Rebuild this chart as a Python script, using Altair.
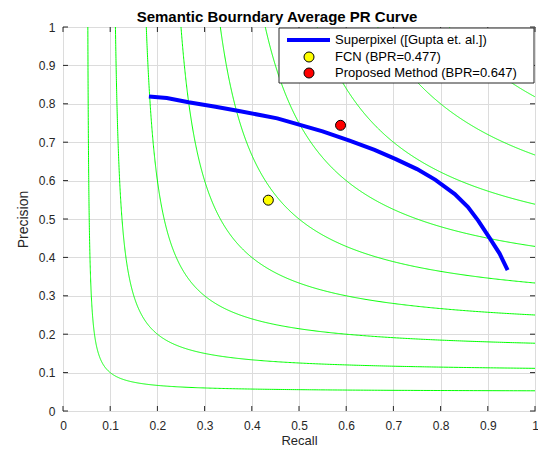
import altair as alt
import numpy as np
import pandas as pd

# Superpixel curve
sp_recall = [0.182, 0.22, 0.266, 0.32, 0.370, 0.42, 0.454, 0.502, 0.55, 0.607,
             0.66, 0.705, 0.75, 0.789, 0.83, 0.858, 0.88, 0.904, 0.925, 0.942]
sp_precision = [0.819, 0.815, 0.804, 0.793, 0.782, 0.770, 0.762, 0.745, 0.728, 0.704,
                0.680, 0.656, 0.630, 0.602, 0.565, 0.531, 0.495, 0.450, 0.410, 0.367]

pt_labels = ["FCN (BPR=0.477)", "Proposed Method (BPR=0.647)"]
pt_recall = [0.435, 0.588]
pt_precision = [0.549, 0.744]
pt_colors = ["#ffff00", "#ff0000"]
line_label = "Superpixel ([Gupta et. al.])"

f_levels = [0.1, 0.2, 0.3, 0.4, 0.5, 0.6, 0.7, 0.8, 0.9]
ticks = [0, 0.1, 0.2, 0.3, 0.4, 0.5, 0.6, 0.7, 0.8, 0.9, 1]

W, H = 472, 384
FONT = "Liberation Sans"
TXT = "#262626"

# iso-F contours
rows = []
for f in f_levels:
    u = np.geomspace(f * f / (2 - f), f, 300)
    r = (u + f) / 2
    p = f / 2 + f * f / (2 * u)
    rr = np.concatenate([r, p[::-1]])
    pp = np.concatenate([p, r[::-1]])
    for i, (a, b) in enumerate(zip(rr, pp)):
        rows.append({"F": f, "i": i, "R": a, "P": b})
iso = pd.DataFrame(rows)

xs = alt.Scale(domain=[0, 1], nice=False, zero=False)
ys = alt.Scale(domain=[0, 1], nice=False, zero=False)
expr = "datum.value == 0 ? '0' : datum.value == 1 ? '1' : format(datum.value, '.1f')"

xaxis = alt.Axis(values=ticks, labelExpr=expr, title="Recall", grid=True, ticks=False,
                 domain=False, gridColor="#dcdcdc", labelFont=FONT, labelFontSize=12,
                 labelColor=TXT, titleFont=FONT, titleFontSize=13, titleColor=TXT,
                 titleFontWeight="normal", labelPadding=9, titlePadding=3,
                 labelOverlap=False, labelFlush=False)
yaxis = alt.Axis(values=ticks, labelExpr=expr, title="Precision", grid=True, ticks=False,
                 domain=False, gridColor="#dcdcdc", labelFont=FONT, labelFontSize=12,
                 labelColor=TXT, titleFont=FONT, titleFontSize=14, titleColor=TXT,
                 titleFontWeight="normal", labelPadding=8, titlePadding=8,
                 labelOverlap=False, labelFlush=False)


def X(field):
    return alt.X(field, scale=xs, axis=xaxis)


def Y(field):
    return alt.Y(field, scale=ys, axis=yaxis)


iso_layer = alt.Chart(iso).mark_line(color="#00ff00", strokeWidth=1, clip=True).encode(
    x=X("R:Q"), y=Y("P:Q"), detail="F:N", order="i:Q")

sp = pd.DataFrame({"R": sp_recall, "P": sp_precision, "i": range(len(sp_recall))})
sp_layer = alt.Chart(sp).mark_line(color="#0000ff", strokeWidth=4, clip=True).encode(
    x=X("R:Q"), y=Y("P:Q"), order="i:Q")

pts = pd.DataFrame({"R": pt_recall, "P": pt_precision, "label": pt_labels, "c": pt_colors})
pt_layer = alt.Chart(pts).mark_circle(size=100, opacity=1, stroke="black", strokeWidth=1).encode(
    x=X("R:Q"), y=Y("P:Q"), color=alt.Color("c:N", scale=None))

tk = pd.DataFrame({"R": ticks, "P": ticks})
tick_layers = [
    alt.Chart(tk).mark_rule(color=TXT).encode(x=X("R:Q"), y=alt.value(H), y2=alt.value(H - 5)),
    alt.Chart(tk).mark_rule(color=TXT).encode(x=X("R:Q"), y=alt.value(0), y2=alt.value(5)),
    alt.Chart(tk).mark_rule(color=TXT).encode(y=Y("P:Q"), x=alt.value(0), x2=alt.value(5)),
    alt.Chart(tk).mark_rule(color=TXT).encode(y=Y("P:Q"), x=alt.value(W), x2=alt.value(W - 5)),
]

# legend
one = pd.DataFrame({"a": [0]})
leg_box = alt.Chart(one).mark_rect(fill="white", stroke=TXT, strokeWidth=1).encode(
    x=alt.value(216), x2=alt.value(W - 1), y=alt.value(1), y2=alt.value(56))
leg_line = alt.Chart(one).mark_rule(color="#0000ff", strokeWidth=4).encode(
    x=alt.value(224), x2=alt.value(267), y=alt.value(13))
leg_texts = []
for lbl, yy in zip([line_label] + pt_labels, [13, 30, 46]):
    leg_texts.append(alt.Chart(pd.DataFrame({"t": [lbl]})).mark_text(
        align="left", baseline="middle", font=FONT, fontSize=13, color="black").encode(
        text="t:N", x=alt.value(272), y=alt.value(yy)))
leg_dots = []
for c, yy in zip(pt_colors, [30, 46]):
    leg_dots.append(alt.Chart(pd.DataFrame({"c": [c]})).mark_circle(
        size=100, opacity=1, stroke="black", strokeWidth=1).encode(
        x=alt.value(246), y=alt.value(yy), color=alt.Color("c:N", scale=None)))

chart = alt.layer(iso_layer, *tick_layers, sp_layer, pt_layer, leg_box, leg_line, *leg_dots, *leg_texts).properties(
    width=W, height=H,
    title=alt.TitleParams("Semantic Bourndary Average PR Curve", font=FONT, fontSize=15,
                          fontWeight="bold", color="black", anchor="middle", offset=-4,
                          dx=-22, frame="group"),
    autosize=alt.AutoSizeParams(type="none"),
    padding={"left": 55, "top": 19, "right": 3, "bottom": 36},
).configure_view(stroke=TXT, strokeWidth=1)

chart.save("out.html", embed_options={"renderer": "svg", "actions": False})
